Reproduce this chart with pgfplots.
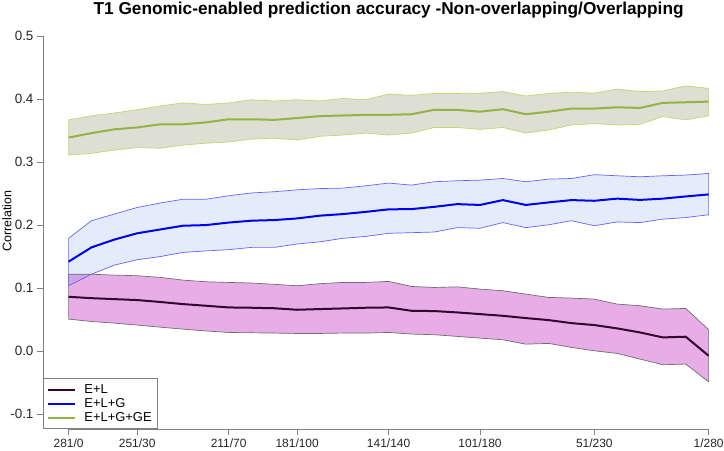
\documentclass[border=0pt]{standalone}
\usepackage{pgfplots}
\pgfplotsset{compat=1.18}
\usepackage{pgfplotstable}
\usepgfplotslibrary{fillbetween}
\usepackage{fontspec}
\setmainfont{Liberation Sans}

\definecolor{axgray}{RGB}{128,128,128}
\definecolor{gefill}{RGB}{220,223,210}
\definecolor{geline}{RGB}{150,178,70}
\definecolor{geedge}{RGB}{196,214,110}
\definecolor{gfill}{RGB}{30,100,230}
\definecolor{gline}{RGB}{0,0,240}
\definecolor{gedge}{RGB}{100,100,250}
\definecolor{lfill}{RGB}{232,172,230}
\definecolor{lline}{RGB}{50,5,50}
\definecolor{ledge}{RGB}{110,110,110}

\pgfplotstableread{
x lo mean hi
0 0.311 0.339 0.367
10 0.314 0.346 0.3735
20 0.319 0.352 0.378
30 0.323 0.355 0.383
40 0.322 0.360 0.389
50 0.327 0.360 0.394
60 0.330 0.363 0.3915
70 0.332 0.368 0.394
80 0.3365 0.368 0.399
90 0.338 0.367 0.397
100 0.335 0.370 0.399
110 0.341 0.373 0.397
120 0.343 0.374 0.401
130 0.346 0.375 0.399
140 0.343 0.375 0.408
150 0.346 0.376 0.406
160 0.355 0.383 0.409
170 0.355 0.383 0.409
180 0.352 0.380 0.4095
190 0.355 0.384 0.412
200 0.346 0.376 0.405
210 0.351 0.380 0.409
220 0.359 0.385 0.411
230 0.361 0.385 0.4095
240 0.359 0.387 0.416
250 0.360 0.386 0.412
260 0.3725 0.394 0.413
270 0.367 0.395 0.421
280 0.3735 0.396 0.417
}\tabGE

\pgfplotstableread{
x lo mean hi
0 0.1037 0.142 0.179
10 0.122 0.1646 0.207
20 0.1365 0.177 0.2175
30 0.145 0.187 0.228
40 0.150 0.193 0.235
50 0.1566 0.199 0.241
60 0.159 0.200 0.241
70 0.161 0.204 0.2466
80 0.1646 0.207 0.251
90 0.1646 0.208 0.253
100 0.170 0.2106 0.256
110 0.1735 0.215 0.258
120 0.179 0.2175 0.2587
130 0.182 0.221 0.2624
140 0.187 0.225 0.2667
150 0.188 0.2254 0.2635
160 0.189 0.229 0.2688
170 0.196 0.2333 0.2704
180 0.195 0.232 0.2714
190 0.204 0.2397 0.274
200 0.196 0.232 0.2688
210 0.2005 0.236 0.273
220 0.207 0.2397 0.274
230 0.199 0.2386 0.280
240 0.205 0.242 0.2783
250 0.204 0.240 0.2767
260 0.2095 0.242 0.2783
270 0.212 0.2455 0.2794
280 0.2164 0.2487 0.282
}\tabG

\pgfplotstableread{
x lo mean hi
0 0.0508 0.0862 0.122
10 0.047 0.084 0.122
20 0.0444 0.0825 0.1206
30 0.0413 0.081 0.1196
40 0.038 0.078 0.117
50 0.0349 0.0746 0.1127
60 0.032 0.072 0.110
70 0.0296 0.0693 0.109
80 0.029 0.0688 0.108
90 0.0286 0.068 0.106
100 0.028 0.0656 0.1037
110 0.028 0.0667 0.107
120 0.0286 0.0677 0.109
130 0.0286 0.0688 0.109
140 0.0296 0.0693 0.1106
150 0.027 0.064 0.1026
160 0.026 0.0635 0.101
170 0.0233 0.0614 0.102
180 0.0206 0.0587 0.0984
190 0.018 0.056 0.0958
200 0.011 0.0524 0.0905
210 0.0122 0.0492 0.0852
220 0.0058 0.0444 0.0841
230 0.0005 0.0413 0.0825
240 -0.0037 0.036 0.0746
250 -0.0127 0.0296 0.072
260 -0.0217 0.0217 0.0667
270 -0.0206 0.0228 0.0677
280 -0.0487 -0.0074 0.0339
}\tabL

\begin{document}
\begin{tikzpicture}
\begin{axis}[
  at={(0,0)}, anchor=south west,
  scale only axis, width=691.2bp, height=408.2bp,
  xmin=-11.2, xmax=291.2, ymin=-0.124, ymax=0.524,
  axis x line*=bottom, axis y line*=left,
  axis line style={draw=none},
  tick align=outside, major tick length=6bp,
  tick style={axgray, line width=0.75bp},
  xtick={0,30,70,100,140,180,230,280},
  xticklabels={281/0,251/30,211/70,181/100,141/140,101/180,51/230,1/280},
  ytick={-0.1,0,0.1,0.2,0.3,0.4,0.5},
  yticklabels={-0.1,0.0,0.1,0.2,0.3,0.4,0.5},
  ticklabel style={font=\fontsize{12}{14}\selectfont, text=black!85},
  yticklabel style={font=\fontsize{13.5}{15}\selectfont},
  title={T1 Genomic-enabled prediction accuracy -Non-overlapping/Overlapping},
  title style={at={(axis description cs:0.5,1)}, anchor=base, yshift=0.5bp, font=\bfseries\fontsize{17.3}{19}\selectfont},
  ylabel={Correlation},
  ylabel style={at={(axis description cs:-0.0521,0.51)}, anchor=center, font=\fontsize{12.5}{14}\selectfont},
  legend style={at={(axis description cs:0,0)}, anchor=south west, draw=axgray, line width=0.75bp, fill=white,
    font=\fontsize{13}{15}\selectfont, inner xsep=4bp, inner ysep=4bp, row sep=-0.5bp, column sep=6bp,
    cells={anchor=west}},
  legend image code/.code={\path (0bp,0bp) -- (4bp,0bp); \draw[#1] (4bp,0bp) -- (27bp,0bp);},
  legend cell align=left,
]
% bands
\addplot[draw=none, name path=gehi, forget plot] table[x=x,y=hi]{\tabGE};
\addplot[draw=none, name path=gelo, forget plot] table[x=x,y=lo]{\tabGE};
\addplot[fill=gefill, draw=geedge, line width=0.7bp, forget plot] fill between[of=gehi and gelo];

\addplot[draw=none, name path=lhi, forget plot] table[x=x,y=hi]{\tabL};
\addplot[draw=none, name path=llo, forget plot] table[x=x,y=lo]{\tabL};
\addplot[fill=lfill, draw=ledge, line width=0.7bp, forget plot] fill between[of=lhi and llo];

\addplot[draw=none, name path=ghi, forget plot] table[x=x,y=hi]{\tabG};
\addplot[draw=none, name path=glo, forget plot] table[x=x,y=lo]{\tabG};
\addplot[fill=gfill, fill opacity=0.12, draw=gedge, line width=0.7bp, forget plot] fill between[of=ghi and glo];

% means
\addplot[lline, line width=2bp, mark=none] table[x=x,y=mean]{\tabL};
\addlegendentry{E+L}
\addplot[gline, line width=2bp, mark=none] table[x=x,y=mean]{\tabG};
\addlegendentry{E+L+G}
\addplot[geline, line width=2bp, mark=none] table[x=x,y=mean]{\tabGE};
\addlegendentry{E+L+G+GE}

% axis lines (R style: from first to last tick)
\draw[axgray, line width=0.75bp] (axis cs:0,-0.124) -- (axis cs:280,-0.124);
\draw[axgray, line width=0.75bp] (axis cs:-11.2,-0.1) -- (axis cs:-11.2,0.5);
\end{axis}
\pgfresetboundingbox
\path[use as bounding box] (-43bp,-21bp) rectangle (681bp,429.2bp);
\end{tikzpicture}
\end{document}
